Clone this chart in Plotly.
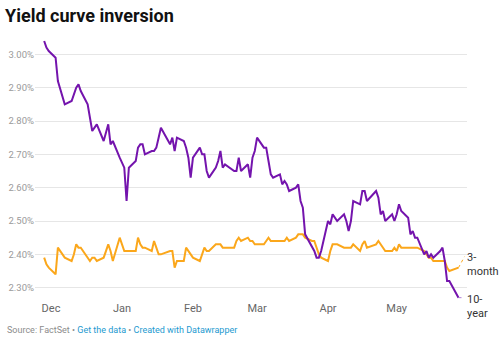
import pandas as pd
import plotly.graph_objects as go

# ---- data -------------------------------------------------------------
holidays = ["2018-12-05", "2018-12-25", "2019-01-01", "2019-01-21",
            "2019-02-18", "2019-04-19", "2019-05-27"]
dates = [d for d in pd.bdate_range("2018-11-28", "2019-05-28")
         if d.strftime("%Y-%m-%d") not in holidays]

ten_year = (
    [3.04, 3.02, 3.01] +
    [2.99, 2.92, 2.87, 2.85, 2.86, 2.88, 2.90, 2.91, 2.89, 2.85, 2.81, 2.77,
     2.78, 2.79, 2.74, 2.79, 2.73, 2.74, 2.69] +
    [2.66, 2.56, 2.66, 2.68, 2.72, 2.73, 2.73, 2.70, 2.71, 2.71, 2.72, 2.75,
     2.78, 2.73, 2.75, 2.71, 2.75, 2.74, 2.72, 2.69, 2.63] +
    [2.69, 2.72, 2.70, 2.70, 2.65, 2.63, 2.66, 2.68, 2.71, 2.66, 2.67, 2.65,
     2.65, 2.69, 2.65, 2.67, 2.63, 2.69, 2.71] +
    [2.75, 2.72, 2.72, 2.68, 2.64, 2.63, 2.64, 2.61, 2.62, 2.61, 2.59, 2.60,
     2.61, 2.56, 2.54, 2.46, 2.42, 2.41, 2.39, 2.39, 2.41] +
    [2.50, 2.49, 2.52, 2.51, 2.50, 2.52, 2.50, 2.47, 2.50, 2.56, 2.55, 2.59,
     2.59, 2.56, 2.59, 2.57, 2.52, 2.53, 2.50, 2.52, 2.50] +
    [2.52, 2.55, 2.53, 2.51, 2.46, 2.47, 2.45, 2.45, 2.40, 2.41, 2.39, 2.40,
     2.39, 2.41, 2.42, 2.38, 2.32, 2.32, 2.27]
)

three_month = (
    [2.39, 2.37, 2.36] +
    [2.34, 2.42, 2.40, 2.39, 2.38, 2.40, 2.43, 2.42, 2.42, 2.39, 2.38, 2.39,
     2.39, 2.38, 2.39, 2.43, 2.41, 2.38, 2.45] +
    [2.41, 2.41, 2.41, 2.41, 2.45, 2.43, 2.42, 2.42, 2.41, 2.44, 2.42, 2.40,
     2.40, 2.41, 2.41, 2.36, 2.38, 2.38, 2.42, 2.41, 2.40] +
    [2.39, 2.38, 2.40, 2.42, 2.41, 2.41, 2.43, 2.43, 2.43, 2.42, 2.42, 2.42,
     2.44, 2.45, 2.44, 2.45, 2.44, 2.44, 2.43] +
    [2.43, 2.43, 2.44, 2.45, 2.44, 2.44, 2.44, 2.44, 2.44, 2.45, 2.44, 2.45,
     2.46, 2.46, 2.46, 2.45, 2.44, 2.44, 2.42, 2.40, 2.39] +
    [2.38, 2.41, 2.43, 2.43, 2.43, 2.42, 2.42, 2.42, 2.42, 2.43, 2.41, 2.43,
     2.44, 2.42, 2.43, 2.44, 2.43, 2.42, 2.41, 2.41, 2.42] +
    [2.41, 2.43, 2.42, 2.42, 2.42, 2.42, 2.42, 2.42, 2.41, 2.40, 2.39, 2.39,
     2.38, 2.38, 2.38, 2.38, 2.36, 2.35, 2.36]
)

month_ticks = ["2018-12-01", "2019-01-01", "2019-02-01", "2019-03-01",
               "2019-04-01", "2019-05-01"]
month_labels = ["Dec", "Jan", "Feb", "Mar", "Apr", "May"]
y_ticks = [2.30, 2.40, 2.50, 2.60, 2.70, 2.80, 2.90, 3.00]
y_labels = ["2.30%", "2.40%", "2.50%", "2.60%", "2.70%", "2.80%", "2.90%", "3.00%"]

assert len(dates) == len(ten_year) == len(three_month)

PURPLE = "#7414ad"
ORANGE = "#fba71b"
FONT = "Roboto"

fig = go.Figure()
fig.add_trace(go.Scatter(x=dates, y=three_month, mode="lines",
                         line=dict(color=ORANGE, width=2), name="3-month",
                         cliponaxis=False))
fig.add_trace(go.Scatter(x=dates, y=ten_year, mode="lines",
                         line=dict(color=PURPLE, width=2), name="10-year",
                         cliponaxis=False))

# dotted label connectors
last = dates[-1]
conn_end = last + pd.Timedelta(days=2.6)
fig.add_trace(go.Scatter(x=[last, conn_end], y=[three_month[-1], three_month[-1] + 0.033],
                         mode="lines", line=dict(color=ORANGE, width=1, dash="dot"),
                         cliponaxis=False, hoverinfo="skip"))
fig.add_trace(go.Scatter(x=[last, conn_end], y=[ten_year[-1], ten_year[-1]],
                         mode="lines", line=dict(color="#b07fd6", width=1, dash="dot"),
                         cliponaxis=False, hoverinfo="skip"))

fig.add_annotation(x=last, y=three_month[-1], xref="x", yref="y",
                   text="3-<br>month", showarrow=False, xanchor="left",
                   yanchor="middle", xshift=6, yshift=3, align="left",
                   font=dict(family=FONT, size=11, color="#333333"))
fig.add_annotation(x=last, y=ten_year[-1], xref="x", yref="y",
                   text="10-<br>year", showarrow=False, xanchor="left",
                   yanchor="top", xshift=6, yshift=7, align="left",
                   font=dict(family=FONT, size=11, color="#333333"))

fig.add_annotation(
    x=-0.069, y=-0.112, xref="paper", yref="paper", xanchor="left", yanchor="middle",
    showarrow=False, align="left",
    text=("<span style='color:#8c8c8c'>Source: FactSet • </span>"
          "<span style='color:#1d9ad0'>Get the data</span>"
          "<span style='color:#8c8c8c'> • </span>"
          "<span style='color:#1d9ad0'>Created with Datawrapper</span>"),
    font=dict(family=FONT, size=9),
)

fig.update_layout(
    width=501, height=351,
    margin=dict(l=35, r=34, t=35, b=51, autoexpand=False),
    paper_bgcolor="white", plot_bgcolor="white",
    showlegend=False,
    font=dict(family=FONT),
    title=dict(text="<b>Yield curve inversion</b>", x=0.01, xref="container",
               xanchor="left", y=1 - 16 / 351, yref="container", yanchor="middle",
               font=dict(family=FONT, size=18, color="#111111")),
)
fig.update_xaxes(
    range=["2018-11-24", "2019-05-31 17:00"],
    tickvals=month_ticks, ticktext=month_labels, automargin=False,
    showgrid=False, zeroline=False, showline=False, ticks="",
    tickfont=dict(family=FONT, size=11, color="#666666"),
)
fig.update_yaxes(
    range=[2.263, 3.058], automargin=False,
    tickvals=y_ticks, ticktext=y_labels, ticklabelstandoff=0,
    showgrid=True, gridcolor="#e6e6e6", gridwidth=1,
    zeroline=False, showline=False, ticks="",
    tickfont=dict(family=FONT, size=9.5, color="#9a9a9a"),
)

fig.write_html("out.html")
